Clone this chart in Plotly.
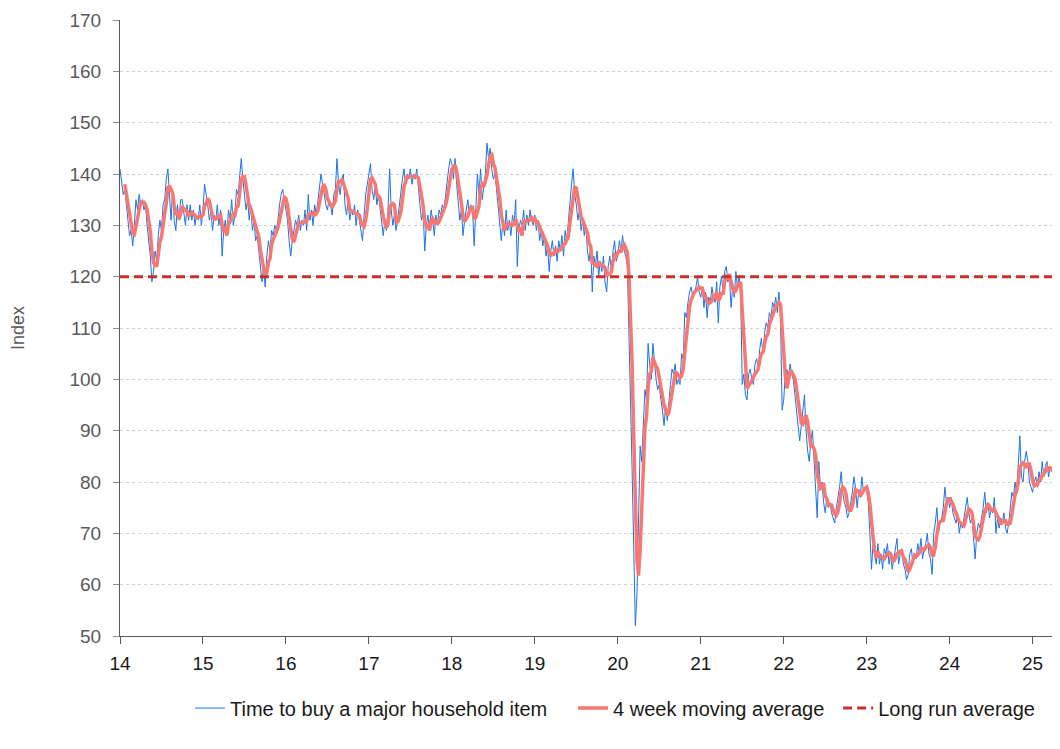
import plotly.graph_objects as go
import pandas as pd

# Weekly index values, "Time to buy a major household item" (52 weeks per year)
v2014 = [141, 138, 136, 137, 134, 131, 128, 129, 126, 130, 135, 133, 136, 134, 135, 133, 134, 130, 127, 124,
         119, 121, 125, 123, 128, 131, 129, 134, 135, 139, 141, 136, 131, 137, 131, 129, 134, 131, 135, 135,
         132, 130, 134, 131, 134, 131, 133, 130, 132, 131, 134, 130]
v2015 = [133, 138, 136, 134, 131, 133, 129, 132, 131, 134, 130, 133, 124, 129, 131, 128, 133, 131, 135, 130,
         132, 137, 136, 140, 143, 139, 136, 133, 135, 131, 134, 129, 131, 127, 128, 125, 121, 119, 122, 118,
         124, 127, 125, 129, 128, 130, 129, 131, 134, 136, 137, 135]
v2016 = [133, 131, 127, 124, 127, 129, 131, 130, 132, 129, 131, 130, 133, 129, 136, 131, 133, 130, 134, 132,
         135, 137, 140, 138, 136, 134, 133, 135, 134, 132, 136, 137, 143, 138, 136, 139, 140, 134, 132, 135,
         131, 133, 132, 134, 130, 133, 131, 129, 127, 132, 136, 138]
v2017 = [140, 142, 137, 135, 138, 134, 136, 133, 130, 128, 131, 129, 133, 141, 133, 130, 132, 129, 131, 134,
         136, 139, 141, 138, 140, 139, 141, 138, 140, 139, 141, 137, 134, 131, 133, 125, 130, 132, 129, 133,
         131, 128, 132, 130, 133, 132, 134, 133, 136, 138, 141, 143]
v2018 = [142, 139, 143, 138, 135, 131, 133, 128, 131, 133, 135, 132, 134, 133, 126, 133, 140, 136, 141, 135,
         138, 140, 146, 143, 145, 141, 139, 140, 137, 134, 130, 127, 131, 128, 133, 129, 131, 128, 132, 130,
         135, 122, 129, 131, 130, 133, 129, 132, 130, 133, 131, 130]
v2019 = [132, 129, 131, 127, 129, 126, 128, 124, 126, 121, 125, 127, 124, 126, 123, 127, 125, 128, 124, 129,
         127, 131, 135, 138, 141, 136, 134, 131, 133, 129, 131, 128, 130, 125, 123, 126, 117, 124, 122, 125,
         120, 123, 121, 124, 119, 117, 122, 124, 121, 125, 127, 123]
v2020 = [124, 127, 125, 128, 125, 124, 122, 110, 97, 82, 67, 52, 58, 70, 87, 84, 93, 98, 96, 107,
         103, 100, 107, 103, 100, 98, 99, 96, 94, 91, 95, 92, 96, 99, 102, 101, 103, 99, 100, 99,
         105, 104, 113, 112, 115, 117, 118, 116, 117, 118, 120, 117]
v2021 = [116, 118, 114, 117, 112, 116, 115, 118, 116, 115, 119, 111, 118, 120, 117, 121, 122, 119, 120, 114,
         118, 116, 121, 118, 120, 117, 99, 101, 97, 96, 101, 102, 100, 99, 103, 104, 102, 106, 108, 105,
         109, 111, 110, 113, 112, 115, 114, 116, 113, 117, 112, 94]
v2022 = [96, 101, 102, 100, 103, 101, 100, 97, 95, 92, 88, 91, 94, 97, 90, 86, 84, 88, 90, 84,
         79, 73, 84, 79, 80, 76, 74, 77, 75, 76, 74, 73, 72, 75, 77, 79, 82, 78, 76, 75,
         73, 74, 76, 78, 81, 79, 75, 78, 77, 81, 78, 79]
v2023 = [78, 76, 70, 63, 68, 66, 64, 68, 64, 66, 63, 67, 66, 68, 64, 66, 63, 65, 67, 69,
         64, 66, 67, 64, 63, 61, 62, 66, 67, 64, 66, 65, 68, 66, 69, 65, 67, 68, 70, 66,
         65, 62, 70, 72, 75, 70, 72, 73, 75, 79, 76, 77]
v2024 = [75, 77, 74, 73, 72, 74, 70, 72, 71, 73, 75, 77, 74, 72, 73, 68, 65, 70, 72, 71,
         73, 75, 78, 74, 76, 73, 75, 74, 77, 70, 73, 71, 73, 72, 74, 71, 70, 72, 75, 78,
         77, 80, 78, 85, 89, 81, 80, 84, 86, 84, 80, 79]
v2025 = [78, 80, 81, 79, 82, 80, 84, 81, 83, 84, 81, 83, 82, 84, 82, 83]

long_run_average = 120
year_ticks = list(range(14, 26))
y_ticks = list(range(50, 171, 10))

yearly = [(14, v2014), (15, v2015), (16, v2016), (17, v2017), (18, v2018), (19, v2019),
          (20, v2020), (21, v2021), (22, v2022), (23, v2023), (24, v2024), (25, v2025)]
x = []
y = []
for yr, vals in yearly:
    for k, v in enumerate(vals):
        x.append(yr + k / 52)
        y.append(v)

ma4 = pd.Series(y).rolling(4).mean()
x_end = 25.33

fig = go.Figure()
fig.add_trace(go.Scatter(x=x, y=y, mode="lines", name="Time to buy a major household item",
                         line=dict(color="#1a74e8", width=1), legend="legend"))
fig.add_trace(go.Scatter(x=x, y=ma4, mode="lines", name="4 week moving average",
                         line=dict(color="#fa7670", width=3.5), legend="legend2"))
fig.add_trace(go.Scatter(x=[14, x_end], y=[long_run_average, long_run_average], mode="lines",
                         name="Long run average",
                         line=dict(color="#c8302a", width=3, dash="9px,5px"), legend="legend3"))

leg_common = dict(orientation="h", xanchor="left", y=-0.117, yanchor="middle",
                  font=dict(size=20, color="#1a1a1a"), itemwidth=30, bgcolor="rgba(0,0,0,0)")

fig.update_layout(
    width=1052, height=741,
    margin=dict(l=112, r=0, t=12, b=113),
    paper_bgcolor="white", plot_bgcolor="white",
    font=dict(family="Liberation Sans, Arial, sans-serif", size=19, color="#333333"),
    showlegend=True,
    legend=dict(x=0.0745, **leg_common),
    legend2=dict(x=0.482, **leg_common),
    legend3=dict(x=0.764, **leg_common),
)
fig.update_xaxes(range=[14, x_end], tickvals=year_ticks, ticktext=[str(t) for t in year_ticks],
                 showgrid=False, zeroline=False, showline=True, linecolor="#595959", linewidth=1,
                 ticks="outside", ticklen=7, tickcolor="#595959", ticklabelstandoff=3,
                 tickfont=dict(size=19, color="#1a1a1a"), automargin=False)
fig.update_yaxes(range=[50, 170], tickvals=y_ticks, showgrid=True, gridcolor="#ccd3da",
                 griddash="dot", gridwidth=1, zeroline=False, showline=True, linecolor="#595959",
                 linewidth=1, ticks="outside", ticklen=6, tickcolor="#8c8c8c", ticklabelstandoff=8,
                 tickfont=dict(size=19, color="#595959"), automargin=False,
                 title=dict(text="Index", standoff=42, font=dict(size=18, color="#595959")))

fig.write_html("out.html")
